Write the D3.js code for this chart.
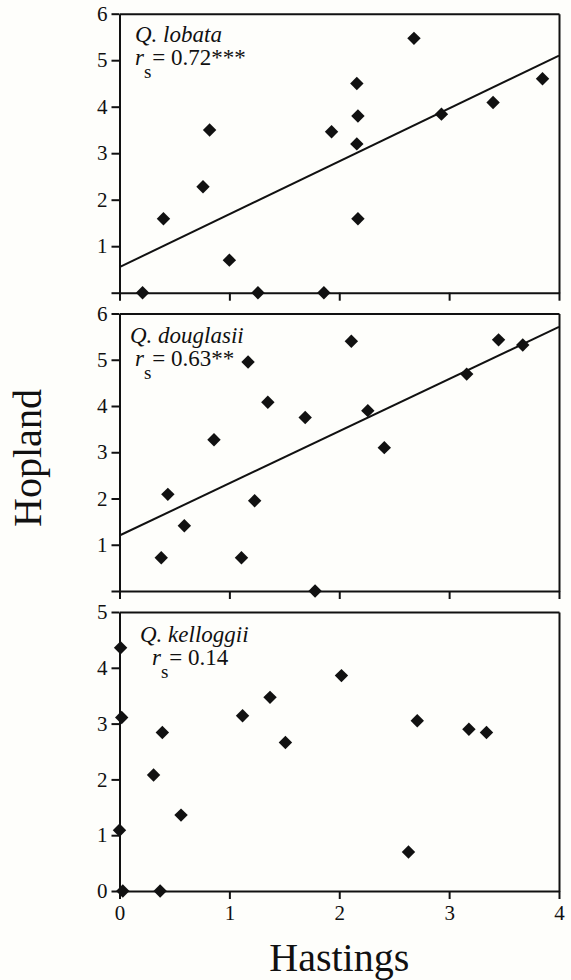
<!DOCTYPE html>
<html>
<head>
<meta charset="utf-8">
<script src="https://cdn.jsdelivr.net/npm/d3@7"></script>
<style>
body { margin: 0; background: #fefefb; }
svg { display: block; }
.axis path, .axis line { stroke: #111; stroke-width: 2; }
</style>
</head>
<body>
<div id="chart"></div>
<script>

//////////// DATA (Hastings on x, Hopland on y)

const lobataX = [0.21, 0.40, 0.76, 0.82, 1.00, 1.26, 1.86, 1.93, 2.16, 2.17, 2.16, 2.17, 2.68, 2.93, 3.40, 3.85];
const lobataY = [0, 1.59, 2.28, 3.50, 0.70, 0, 0, 3.46, 4.50, 3.80, 3.20, 1.59, 5.47, 3.84, 4.09, 4.60];
const lobataFit = [0.55, 5.10];   // fitted y at x = 0 and x = 4

const douglasiiX = [0.38, 0.44, 0.59, 0.86, 1.11, 1.17, 1.23, 1.35, 1.69, 1.78, 2.11, 2.26, 2.41, 3.16, 3.45, 3.67];
const douglasiiY = [0.72, 2.09, 1.41, 3.27, 0.72, 4.95, 1.95, 4.08, 3.75, 0, 5.40, 3.90, 3.10, 4.69, 5.43, 5.32];
const douglasiiFit = [1.20, 5.71];

const kelloggiiX = [0.01, 0.02, 0, 0.03, 0.31, 0.39, 0.37, 0.56, 1.12, 1.37, 1.51, 2.02, 2.71, 2.63, 3.18, 3.34];
const kelloggiiY = [4.36, 3.11, 1.09, 0, 2.08, 2.84, 0, 1.36, 3.14, 3.47, 2.66, 3.86, 3.05, 0.70, 2.90, 2.84];

const xTicks = [0, 1, 2, 3, 4];
const yTicks6 = [0, 1, 2, 3, 4, 5, 6];
const yTicks5 = [0, 1, 2, 3, 4, 5];

const serif = "'Times New Roman', 'Liberation Serif', serif";

// MAKE SVG CANVAS

const width = 571;
const height = 980;
const svg = d3.select("#chart")
    .append("svg")
    .attr("width", width)
    .attr("height", height);

const xScale = d3.scaleLinear()
    .domain([0, 4])
    .range([119.5, 559]);

// PANELS

const panels = [
    {name: "Q. lobata", r: "= 0.72***", xs: lobataX, ys: lobataY, fit: lobataFit,
     yMax: 6, ticks: yTicks6, top: 13.7, bottom: 292.7, showZero: false, showX: false,
     noteX: 135, noteY: 42, rX: 135},
    {name: "Q. douglasii", r: "= 0.63**", xs: douglasiiX, ys: douglasiiY, fit: douglasiiFit,
     yMax: 6, ticks: yTicks6, top: 313.5, bottom: 591, showZero: false, showX: false,
     noteX: 130, noteY: 343, rX: 135},
    {name: "Q. kelloggii", r: "= 0.14", xs: kelloggiiX, ys: kelloggiiY, fit: null,
     yMax: 5, ticks: yTicks5, top: 612, bottom: 891, showZero: true, showX: true,
     noteX: 140, noteY: 642, rX: 152}
];

panels.forEach(function(p) {

    const yScale = d3.scaleLinear()
        .domain([0, p.yMax])
        .range([p.bottom, p.top]);

    // frame (top and right)
    svg.append("g")
        .attr("class", "axis")
        .attr("transform", `translate(0, ${p.top})`)
        .call(d3.axisTop(xScale).tickValues([]).tickSizeOuter(0));

    svg.append("g")
        .attr("class", "axis")
        .attr("transform", `translate(${xScale(4)}, 0)`)
        .call(d3.axisRight(yScale).tickValues([]).tickSizeOuter(0));

    // AXIS
    svg.append("g")
        .attr("class", "axis")
        .attr("transform", `translate(0, ${p.bottom})`)
        .call(d3.axisBottom(xScale)
            .tickValues(xTicks)
            .tickSize(8)
            .tickSizeOuter(0)
            .tickPadding(6)
            .tickFormat(function(d) { return p.showX ? d : ""; }))
        .attr("font-family", serif)
        .attr("font-size", 21);

    svg.append("g")
        .attr("class", "axis")
        .attr("transform", `translate(${xScale(0)}, 0)`)
        .call(d3.axisLeft(yScale)
            .tickValues(p.ticks)
            .tickSize(8)
            .tickSizeOuter(0)
            .tickPadding(4)
            .tickFormat(function(d) { return (d === 0 && !p.showZero) ? "" : d; }))
        .attr("font-family", serif)
        .attr("font-size", 21);

    svg.selectAll(".tick text").attr("fill", "#111");

    // regression line
    if (p.fit) {
        const line = d3.line()
            .x(function(d) { return xScale(d[0]); })
            .y(function(d) { return yScale(d[1]); });
        svg.append("path")
            .datum([[0, p.fit[0]], [4, p.fit[1]]])
            .attr("d", line)
            .attr("fill", "none")
            .attr("stroke", "#111")
            .attr("stroke-width", 2);
    }

    // DATA
    const pts = p.xs.map(function(x, i) { return {x: x, y: p.ys[i]}; });
    svg.append("g").selectAll("path")
        .data(pts)
        .enter()
        .append("path")
            .attr("d", d3.symbol(d3.symbolSquare, 90))
            .attr("transform", function(d) {
                return `translate(${xScale(d.x)}, ${yScale(d.y)}) rotate(45)`;
            })
            .attr("fill", "#111");

    // species name and r_s, one text block
    const note = svg.append("text")
        .attr("font-family", serif)
        .attr("font-size", 23)
        .attr("fill", "#111")
        .attr("x", p.noteX)
        .attr("y", p.noteY);

    note.append("tspan")
        .attr("font-style", "italic")
        .text(p.name);

    note.append("tspan")
        .attr("x", p.rX)
        .attr("dy", 23)
        .attr("font-style", "italic")
        .text("r");

    note.append("tspan")
        .attr("dy", 13)
        .attr("font-size", 19)
        .text("s");

    note.append("tspan")
        .attr("dx", 1)
        .attr("dy", -13)
        .text(p.r);
});

// AXIS LABELS

svg.append("text")
    .attr("font-family", serif)
    .attr("font-size", 40)
    .attr("fill", "#111")
    .attr("x", xScale(2))
    .attr("y", 971)
    .attr("text-anchor", "middle")
    .text("Hastings");

svg.append("text")
    .attr("font-family", serif)
    .attr("font-size", 40)
    .attr("fill", "#111")
    .attr("transform", "rotate(-90)")
    .attr("x", -458)
    .attr("y", 41)
    .attr("text-anchor", "middle")
    .text("Hopland");

</script>
</body>
</html>
